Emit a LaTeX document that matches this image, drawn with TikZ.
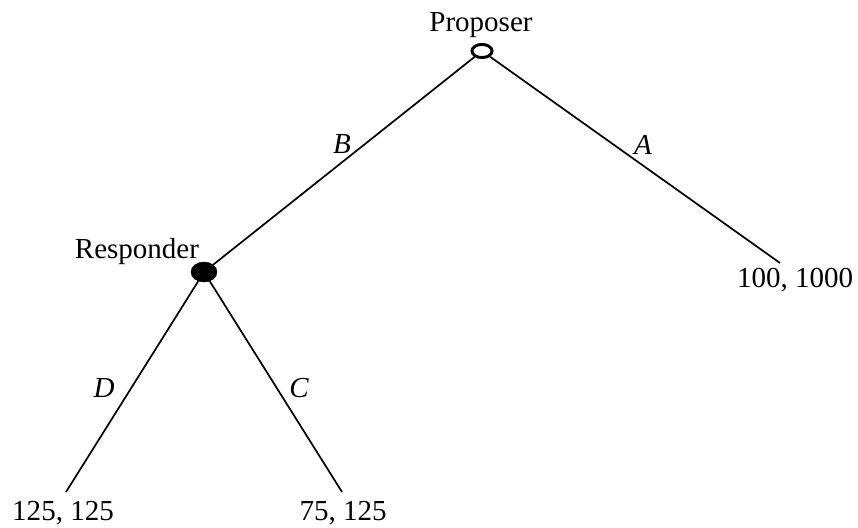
\documentclass[tikz,border=0pt]{standalone}
\usepackage{fontspec}
\setmainfont{Liberation Serif}
\usetikzlibrary{shapes.geometric}
\begin{document}
\begin{tikzpicture}[x=1pt,y=-1pt,
  txt/.style={inner sep=0pt,anchor=base,font=\fontsize{29}{34}\selectfont},
  lbl/.style={inner sep=0pt,font=\fontsize{29}{34}\selectfont\itshape},
  branch/.style={line width=1.7pt},
  opennode/.style={ellipse,draw,line width=2.8pt,fill=white,minimum width=20pt,minimum height=13pt,inner sep=0pt},
  fullnode/.style={ellipse,draw,fill=black,line width=0.5pt,minimum width=26pt,minimum height=20pt,inner sep=0pt}]
\useasboundingbox (0,0) rectangle (858,527);
% end points
\coordinate (ea) at (780,263);
\coordinate (ed) at (66,492);
\coordinate (ec) at (342,492);
% decision nodes
\node[fullnode] (resp) at (204,272) {};
\draw[branch] (resp) -- (ed);
\draw[branch] (resp) -- (ec);
\node[opennode] (prop) at (482,51) {};
\draw[branch] (prop) -- (resp);
\draw[branch] (prop) -- (ea);
\node[opennode] at (482,51) {};
% texts
\node[txt] (tprop) at (481,32) {Proposer};
\node[txt] (tresp) at (137,258) {Responder};
\node[txt] (pa) at (795,287) {100, 1000};
\node[txt] (pd) at (63,520) {125, 125};
\node[txt] (pc) at (343,520) {75, 125};
% branch labels
\node[lbl] (lb) at (342,144) {B};
\node[lbl] (la) at (643,145) {A};
\node[lbl] (ld) at (104,388) {D};
\node[lbl] (lc) at (299,388) {C};
\end{tikzpicture}
\end{document}
